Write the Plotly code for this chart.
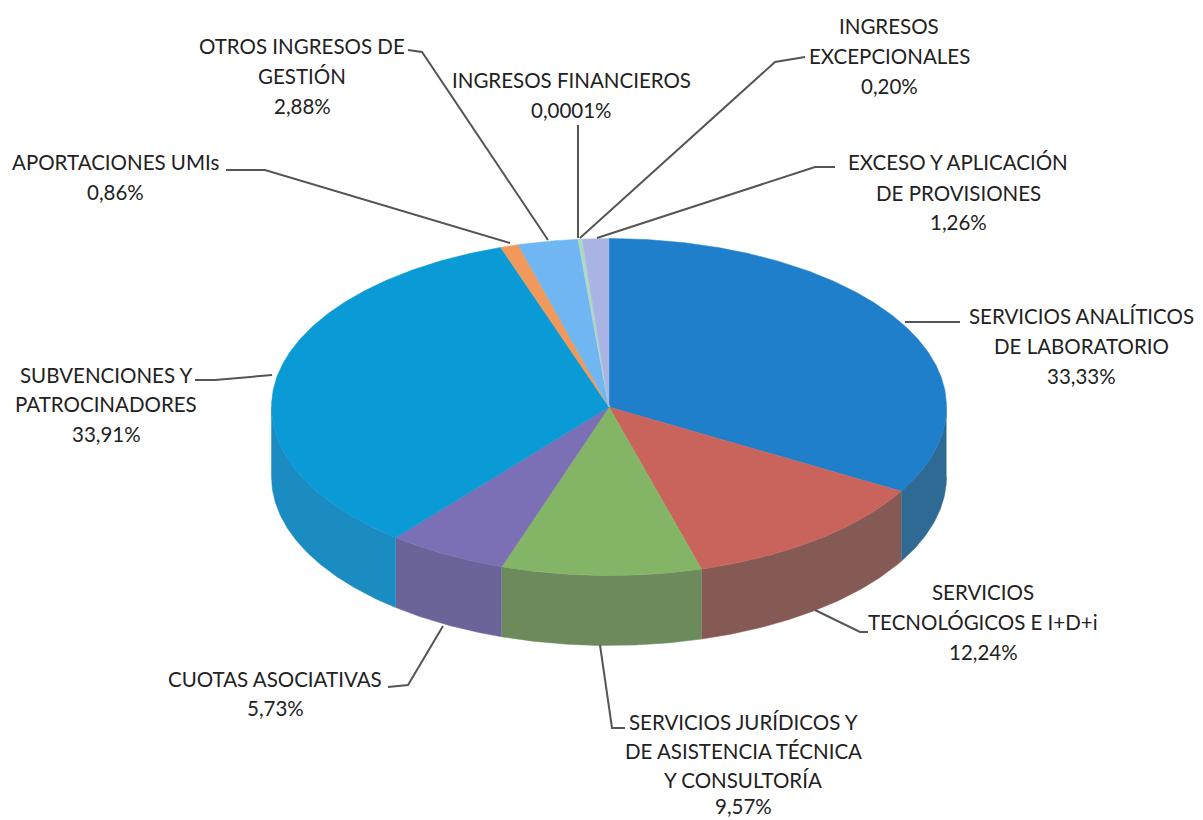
import numpy as np
import plotly.graph_objects as go

categories = ["SERVICIOS ANALÍTICOS DE LABORATORIO", "SERVICIOS TECNOLÓGICOS E I+D+i",
              "SERVICIOS JURÍDICOS Y DE ASISTENCIA TÉCNICA Y CONSULTORÍA", "CUOTAS ASOCIATIVAS",
              "SUBVENCIONES Y PATROCINADORES", "APORTACIONES UMIs", "OTROS INGRESOS DE GESTIÓN",
              "INGRESOS FINANCIEROS", "INGRESOS EXCEPCIONALES", "EXCESO Y APLICACIÓN DE PROVISIONES"]
values = [33.33, 12.24, 9.57, 5.73, 33.91, 0.86, 2.88, 0.0001, 0.20, 1.26]
value_labels = ["33,33%", "12,24%", "9,57%", "5,73%", "33,91%", "0,86%", "2,88%", "0,0001%", "0,20%", "1,26%"]
top_colors = ["#1F7FCB", "#C9645C", "#84B465", "#7B6FB5", "#0A9BD6", "#F0995A", "#70B6F2", "#B0D8C8", "#B0D8C8", "#A9B4E5"]
side_colors = ["#2E6A94", "#855A55", "#6C8A5C", "#6B6499", "#1A8CC2", "#C07A48", "#5A92C2", "#8CADA0", "#8CADA0", "#8790B7"]

label_lines = [
    ["SERVICIOS ANALÍTICOS", "DE LABORATORIO", "33,33%"],
    ["SERVICIOS", "TECNOLÓGICOS E I+D+i", "12,24%"],
    ["SERVICIOS JURÍDICOS Y", "DE ASISTENCIA TÉCNICA", "Y CONSULTORÍA", "9,57%"],
    ["CUOTAS ASOCIATIVAS", "5,73%"],
    ["SUBVENCIONES Y", "PATROCINADORES", "33,91%"],
    ["APORTACIONES UMIs", "0,86%"],
    ["OTROS INGRESOS DE", "GESTIÓN", "2,88%"],
    ["INGRESOS FINANCIEROS", "0,0001%"],
    ["INGRESOS", "EXCEPCIONALES", "0,20%"],
    ["EXCESO Y APLICACIÓN", "DE PROVISIONES", "1,26%"],
]
label_x = [1081, 983, 743, 275, 106, 115, 302, 571, 889, 958]
label_y = [[316, 346, 376], [592, 622, 652], [722, 751, 780, 806], [679, 708], [375, 404, 434],
           [162, 192], [46, 76, 106], [80, 110], [26, 56, 86], [162, 193, 222]]
leader_x = [[905, 960], [815, 860, 868], [600, 612, 625], [443, 408, 388], [272, 215, 195],
            [510, 265, 226], [548, 422, 408], [578, 578], [580, 775, 805], [597, 815, 835]]
leader_y = [[322, 322], [610, 632, 632], [645, 728, 728], [626, 685, 687], [375, 380, 380],
            [243, 170, 170], [240, 52, 50], [238, 125], [238, 62, 57], [238, 167, 167]]

CX, CY, RX, RY, DEPTH = 609, 407, 337.5, 168.5, 70

def arc(a0, a1):
    t = np.radians(np.linspace(a0, a1, max(2, int(abs(a1 - a0) * 2) + 2)))
    return CX + RX * np.sin(t), CY - RY * np.cos(t)

edges = np.concatenate([[0], np.cumsum(values)]) / sum(values) * 360
fig = go.Figure()

# side walls: only the front half of the rim (90..270 degrees) is visible
for i in range(len(values)):
    a0, a1 = max(edges[i], 90), min(edges[i + 1], 270)
    if a1 <= a0:
        continue
    x, y = arc(a0, a1)
    fig.add_trace(go.Scatter(x=np.r_[x, x[::-1]], y=np.r_[y, y[::-1] + DEPTH], mode="lines", fill="toself",
                             fillcolor=side_colors[i], line=dict(width=0.5, color=side_colors[i]), hoverinfo="skip"))
# top face
for i in range(len(values)):
    x, y = arc(edges[i], edges[i + 1])
    fig.add_trace(go.Scatter(x=np.r_[CX, x, CX], y=np.r_[CY, y, CY], mode="lines", fill="toself",
                             fillcolor=top_colors[i], line=dict(width=0.5, color=top_colors[i]),
                             name=categories[i], text=value_labels[i], hoverinfo="name+text"))
# leader lines
for lx, ly in zip(leader_x, leader_y):
    fig.add_trace(go.Scatter(x=lx, y=ly, mode="lines", line=dict(color="#555555", width=2), hoverinfo="skip"))

annotations = []
for lines, x, ys in zip(label_lines, label_x, label_y):
    for line, y in zip(lines, ys):
        annotations.append(dict(x=x, y=y, text=line, showarrow=False, xanchor="center", yanchor="middle",
                                font=dict(family="Lato, Carlito, sans-serif", size=20.5, color="#222222")))

fig.update_layout(width=1203, height=820, margin=dict(l=0, r=0, t=0, b=0), showlegend=False,
                  paper_bgcolor="white", plot_bgcolor="white", annotations=annotations,
                  xaxis=dict(range=[0, 1203], visible=False, fixedrange=True),
                  yaxis=dict(range=[820, 0], visible=False, fixedrange=True))
fig.write_html("out.html", post_script="document.body.style.margin='0';document.body.style.overflow='hidden';",
               config={"displayModeBar": False})
